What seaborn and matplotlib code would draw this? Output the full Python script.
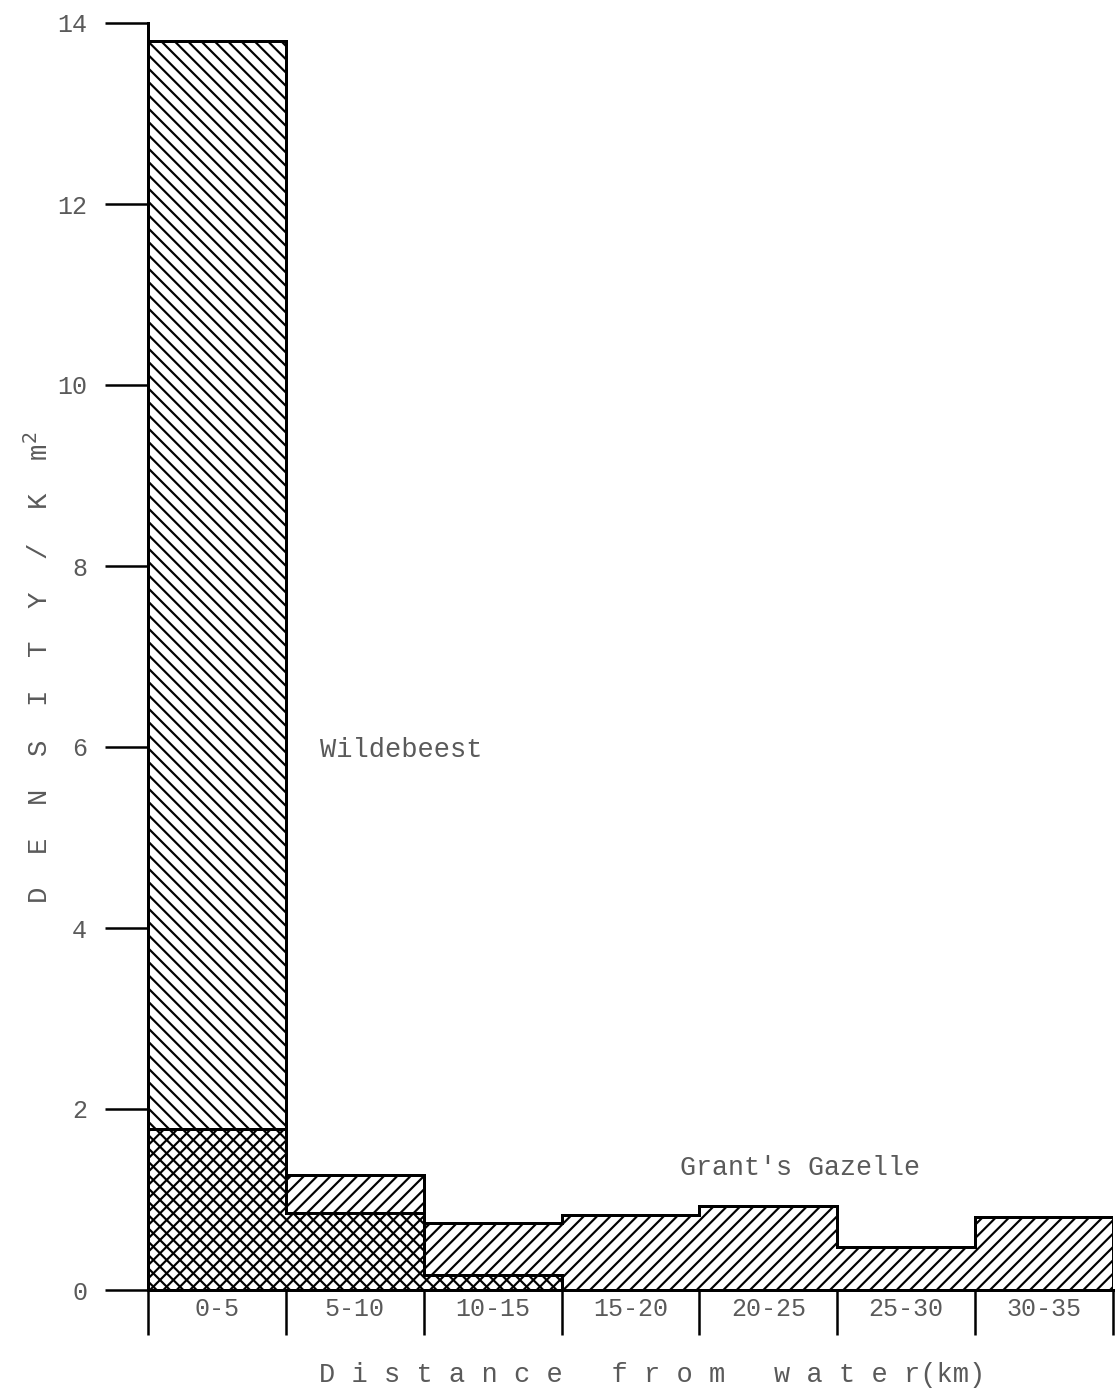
import numpy as np
import pandas as pd
import matplotlib
matplotlib.use("Agg")
import matplotlib.pyplot as plt
import seaborn as sns

# ---- data ----
categories = ['0-5', '5-10', '10-15', '15-20', '20-25', '25-30', '30-35']
wildebeest = [13.8, 0.85, 0.17, 0.0, 0.0, 0.0, 0.0]
gazelle = [1.78, 1.27, 0.74, 0.83, 0.93, 0.48, 0.81]
yticks = [0, 2, 4, 6, 8, 10, 12, 14]

sns.set_theme(style="white")
FONT = ['Liberation Mono', 'DejaVu Sans Mono']
plt.rcParams['font.family'] = FONT
plt.rcParams['hatch.linewidth'] = 1.3
plt.rcParams['hatch.color'] = 'black'
TXT = '#5a5a5a'

DPI = 120
fig = plt.figure(figsize=(1116 / DPI, 1395 / DPI), dpi=DPI)
fig.patch.set_facecolor('white')
ax = fig.add_axes([148 / 1116, 1 - 1290 / 1395, (1113 - 148) / 1116, (1290 - 23) / 1395])

df_g = pd.DataFrame({'dist': categories, 'density': gazelle})
df_w = pd.DataFrame({'dist': categories, 'density': wildebeest})

sns.barplot(data=df_g, x='dist', y='density', order=categories, width=1.0,
            color='white', saturation=1, hatch='///', edgecolor='black',
            linewidth=0, errorbar=None, ax=ax)
sns.barplot(data=df_w, x='dist', y='density', order=categories, width=1.0,
            color='white', saturation=1, hatch='\\\\\\', edgecolor='black',
            linewidth=0, errorbar=None, ax=ax)
for p in ax.patches:
    p.set_facecolor('none')
    p.set_edgecolor('black')
    p.set_linewidth(0)

edges = np.arange(len(categories) + 1) - 0.5
ax.stairs(gazelle, edges, baseline=0, color='black', linewidth=1.8, fill=False)
ax.stairs(wildebeest, edges, baseline=0, color='black', linewidth=1.8, fill=False)

ax.set_xlim(edges[0], edges[-1])
ax.set_ylim(0, 14)
ax.set_yticks(yticks)
ax.set_yticklabels([str(v) for v in yticks])
ax.set_xticks(range(len(categories)))
ax.set_xticklabels(categories)
ax.set_xticks(edges, minor=True)

ax.tick_params(axis='y', which='major', direction='out', length=26, width=1.5,
               color='black', labelsize=15, labelcolor=TXT, pad=10.5, left=True)
ax.tick_params(axis='x', which='major', length=0, labelsize=15, labelcolor=TXT, pad=4)
ax.tick_params(axis='x', which='minor', direction='out', length=27, width=1.5,
               color='black', bottom=True)

for s in ['top', 'right']:
    ax.spines[s].set_visible(False)
for s in ['left', 'bottom']:
    ax.spines[s].set_color('black')
    ax.spines[s].set_linewidth(1.8)
ax.grid(False)
ax.set_facecolor('none')

ax.set_xlabel('D i s t a n c e   f r o m   w a t e r(km)', fontsize=16.2, color=TXT)
ax.xaxis.set_label_coords(0.522, -0.057)
ax.set_ylabel('D  E  N  S  I  T  Y  /  K  m$^{2}$', fontsize=16.4, color=TXT)
ax.yaxis.set_label_coords(-0.112, 0.491)
ax.yaxis.label.set_va('center')

ax.text(0.747, 5.97, 'Wildebeest', fontsize=16.2, color=TXT, ha='left', va='center')
ax.text(3.36, 1.35, "Grant's Gazelle", fontsize=16, color=TXT, ha='left', va='center')

fig.savefig('out.png', dpi=DPI, facecolor='white')
